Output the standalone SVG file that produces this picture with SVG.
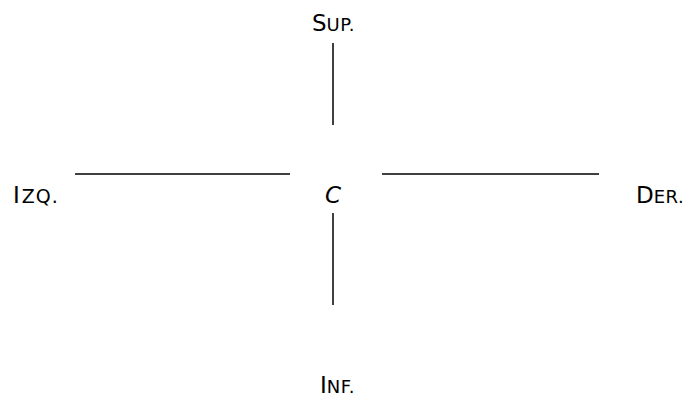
<svg xmlns="http://www.w3.org/2000/svg" width="684" height="415" viewBox="0 0 684 415">
<style>
.lbl{font-family:"DejaVu Sans","Liberation Sans",sans-serif;font-size:23px;fill:#000}
.sc{font-size:18px;letter-spacing:0.5px}
.ln{stroke:#000;stroke-width:1.5;fill:none}
</style>
<rect width="684" height="415" fill="#fff"/>
<g id="connectors">
<line class="ln" x1="333" y1="43" x2="333" y2="125"/>
<line class="ln" x1="333" y1="213" x2="333" y2="305"/>
<line class="ln" x1="75" y1="174" x2="290" y2="174"/>
<line class="ln" x1="382" y1="174" x2="599" y2="174"/>
</g>
<g id="sup"><text class="lbl" x="312" y="31">S<tspan class="sc">UP.</tspan></text></g>
<g id="izq"><text class="lbl" x="13" y="203">I<tspan class="sc" dx="2" style="font-size:19px;letter-spacing:1px">ZQ.</tspan></text></g>
<g id="c"><text class="lbl" x="333" y="203" text-anchor="middle" font-style="italic">C</text></g>
<g id="der"><text class="lbl" x="636" y="203">D<tspan class="sc">ER.</tspan></text></g>
<g id="inf"><text class="lbl" x="320" y="393">I<tspan class="sc">NF.</tspan></text></g>
</svg>
